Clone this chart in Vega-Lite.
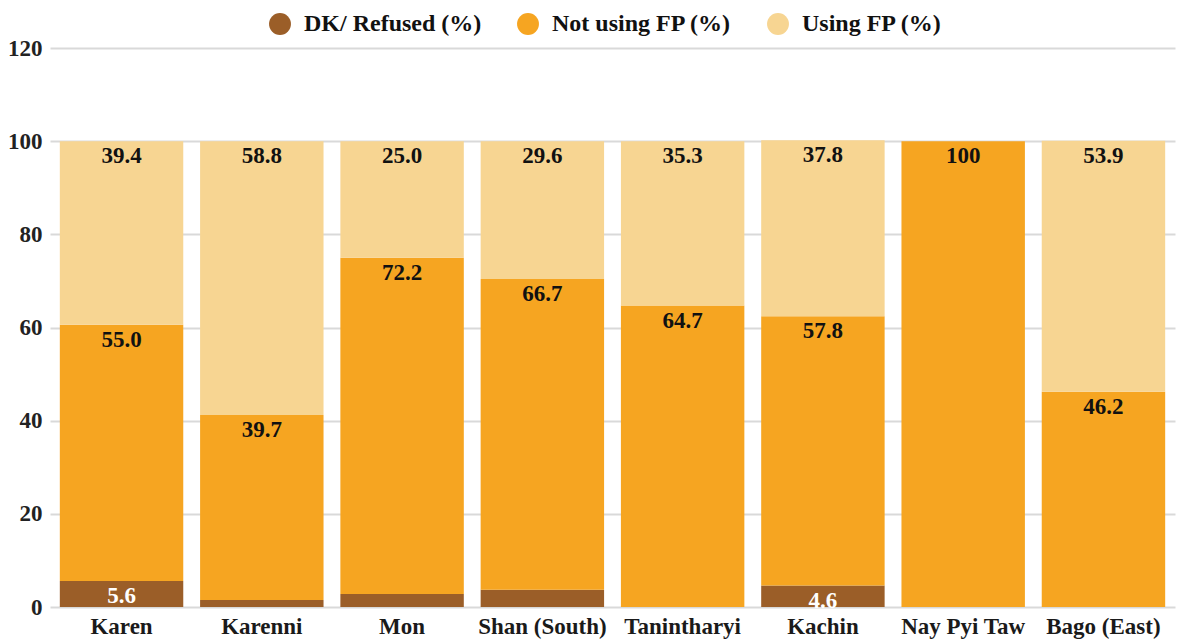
{
  "$schema": "https://vega.github.io/schema/vega-lite/v6.json",
  "width": 1125,
  "height": 559,
  "autosize": {"type": "none"},
  "padding": {"left": 50, "top": 48, "right": 7, "bottom": 37},
  "background": "white",
  "config": {"font": "Liberation Serif", "view": {"stroke": null}},
  "data": {
    "values": [
      {"region": "Karen", "category": "DK/ Refused (%)", "value": 5.6, "label": "5.6"},
      {"region": "Karen", "category": "Not using FP (%)", "value": 55.0, "label": "55.0"},
      {"region": "Karen", "category": "Using FP (%)", "value": 39.4, "label": "39.4"},
      {"region": "Karenni", "category": "DK/ Refused (%)", "value": 1.5, "label": ""},
      {"region": "Karenni", "category": "Not using FP (%)", "value": 39.7, "label": "39.7"},
      {"region": "Karenni", "category": "Using FP (%)", "value": 58.8, "label": "58.8"},
      {"region": "Mon", "category": "DK/ Refused (%)", "value": 2.8, "label": ""},
      {"region": "Mon", "category": "Not using FP (%)", "value": 72.2, "label": "72.2"},
      {"region": "Mon", "category": "Using FP (%)", "value": 25.0, "label": "25.0"},
      {"region": "Shan (South)", "category": "DK/ Refused (%)", "value": 3.7, "label": ""},
      {"region": "Shan (South)", "category": "Not using FP (%)", "value": 66.7, "label": "66.7"},
      {"region": "Shan (South)", "category": "Using FP (%)", "value": 29.6, "label": "29.6"},
      {"region": "Tanintharyi", "category": "DK/ Refused (%)", "value": 0, "label": ""},
      {"region": "Tanintharyi", "category": "Not using FP (%)", "value": 64.7, "label": "64.7"},
      {"region": "Tanintharyi", "category": "Using FP (%)", "value": 35.3, "label": "35.3"},
      {"region": "Kachin", "category": "DK/ Refused (%)", "value": 4.6, "label": "4.6"},
      {"region": "Kachin", "category": "Not using FP (%)", "value": 57.8, "label": "57.8"},
      {"region": "Kachin", "category": "Using FP (%)", "value": 37.8, "label": "37.8"},
      {"region": "Nay Pyi Taw", "category": "DK/ Refused (%)", "value": 0, "label": ""},
      {"region": "Nay Pyi Taw", "category": "Not using FP (%)", "value": 100, "label": "100"},
      {"region": "Nay Pyi Taw", "category": "Using FP (%)", "value": 0, "label": ""},
      {"region": "Bago (East)", "category": "DK/ Refused (%)", "value": 0, "label": ""},
      {"region": "Bago (East)", "category": "Not using FP (%)", "value": 46.2, "label": "46.2"},
      {"region": "Bago (East)", "category": "Using FP (%)", "value": 53.9, "label": "53.9"}
    ]
  },
  "transform": [
    {"stack": "value", "groupby": ["region"], "sort": [{"field": "category", "order": "ascending"}], "as": ["v0", "v1"]}
  ],
  "encoding": {
    "x": {
      "field": "region",
      "type": "nominal",
      "sort": null,
      "scale": {"paddingInner": 0.12, "paddingOuter": 0.07},
      "axis": {
        "title": null,
        "labelAngle": 0,
        "domain": false,
        "ticks": false,
        "labelPadding": 8,
        "labelFontSize": 23,
        "labelFontWeight": "bold",
        "labelColor": "#1a1a1a"
      }
    }
  },
  "layer": [
    {
      "mark": {"type": "bar"},
      "encoding": {
        "y": {
          "field": "v1",
          "type": "quantitative",
          "scale": {"domain": [0, 120], "nice": false},
          "axis": {
            "title": null,
            "values": [0, 20, 40, 60, 80, 100, 120],
            "domain": false,
            "ticks": false,
            "labelPadding": 8,
            "labelFontSize": 23,
            "labelFontWeight": "bold",
            "labelColor": "#222222",
            "gridColor": "#d9d9d9",
            "gridWidth": 2
          }
        },
        "y2": {"field": "v0"},
        "color": {
          "field": "category",
          "type": "nominal",
          "scale": {
            "domain": ["DK/ Refused (%)", "Not using FP (%)", "Using FP (%)"],
            "range": ["#9B5E28", "#F6A521", "#F7D592"]
          },
          "legend": {
            "title": null,
            "orient": "none",
            "legendX": 218,
            "legendY": -36,
            "direction": "horizontal",
            "symbolType": "circle",
            "symbolSize": 480,
            "symbolStrokeWidth": 0,
            "labelFontSize": 24,
            "labelFontWeight": "bold",
            "labelColor": "#111111",
            "labelLimit": 400,
            "labelOffset": 12,
            "columnPadding": 34
          }
        }
      }
    },
    {
      "transform": [{"filter": "datum.label != ''"}],
      "mark": {"type": "text", "baseline": "middle", "align": "center", "dy": 15, "fontSize": 23, "fontWeight": "bold"},
      "encoding": {
        "y": {"field": "v1", "type": "quantitative"},
        "text": {"field": "label"},
        "color": {
          "condition": {"test": "datum.category == 'DK/ Refused (%)'", "value": "#ffffff"},
          "value": "#111111"
        }
      }
    }
  ]
}
